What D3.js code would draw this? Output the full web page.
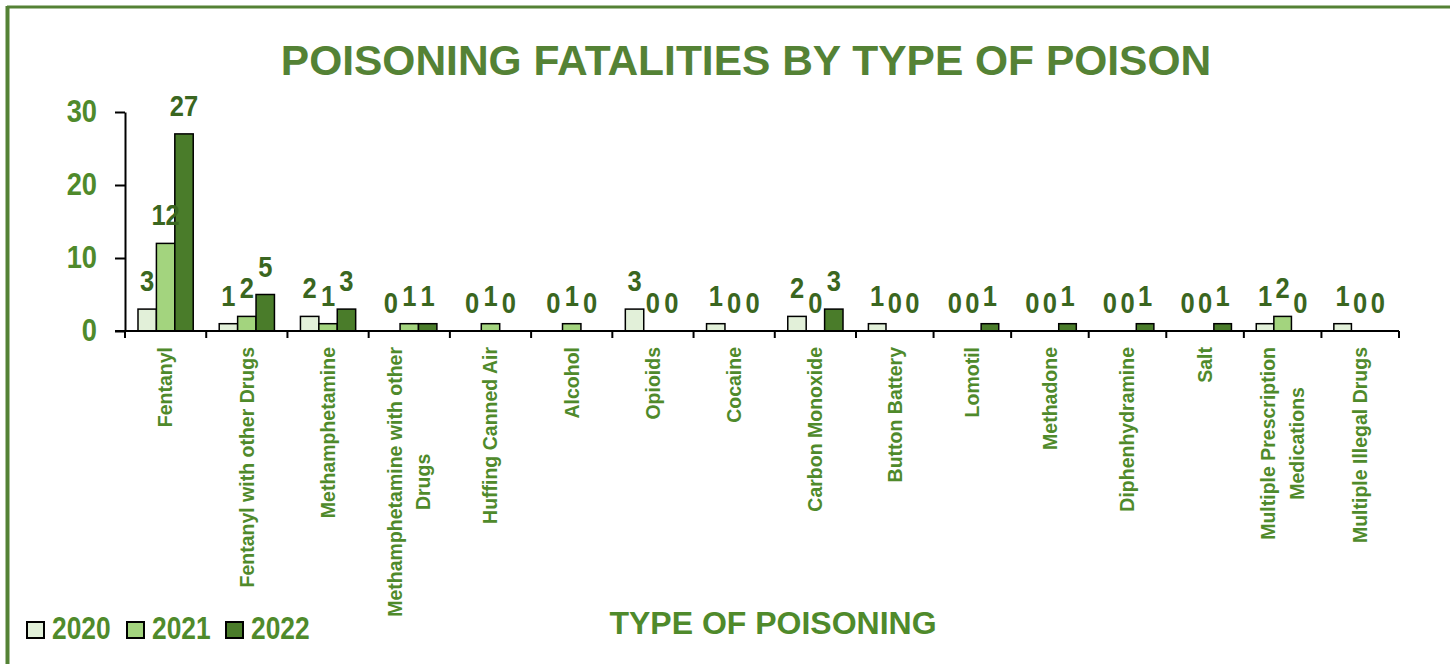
<!DOCTYPE html>
<html>
<head>
<meta charset="utf-8">
<script src="https://cdn.jsdelivr.net/npm/d3@7"></script>
<style>
  html, body { margin: 0; padding: 0; background: #ffffff; }
  svg { display: block; }
</style>
</head>
<body>
<svg id="chart" width="1450" height="664"></svg>
<script>
// Poisoning fatalities by type of poison, 2020–2022
const categories = [
  "Fentanyl",
  "Fentanyl with other Drugs",
  "Methamphetamine",
  "Methamphetamine with other|Drugs",
  "Huffing Canned Air",
  "Alcohol",
  "Opioids",
  "Cocaine",
  "Carbon Monoxide",
  "Button Battery",
  "Lomotil",
  "Methadone",
  "Diphenhydramine",
  "Salt",
  "Multiple Prescription|Medications",
  "Multiple Illegal Drugs"
];
const years = ["2020", "2021", "2022"];
const values2020 = [3, 1, 2, 0, 0, 0, 3, 1, 2, 1, 0, 0, 0, 0, 1, 1];
const values2021 = [12, 2, 1, 1, 1, 1, 0, 0, 0, 0, 0, 0, 0, 0, 2, 0];
const values2022 = [27, 5, 3, 1, 0, 0, 0, 0, 3, 0, 1, 1, 1, 1, 0, 0];
const yTicks = [0, 10, 20, 30];

const seriesValues = [values2020, values2021, values2022];
const fills = ["#e2f0d9", "#a3d47e", "#4a7c2a"];
const green = "#4f8a2b";
const darkGreen = "#3a6620";
const sans = "'Liberation Sans', Arial, sans-serif";

const svg = d3.select("#chart");

// frame
svg.append("line").attr("x1", 7).attr("x2", 1450).attr("y1", 7).attr("y2", 7)
  .attr("stroke", "#548235").attr("stroke-width", 3);
svg.append("line").attr("x1", 7.5).attr("x2", 7.5).attr("y1", 6).attr("y2", 664)
  .attr("stroke", "#548235").attr("stroke-width", 4);

const plot = { left: 125, right: 1399, top: 112, bottom: 331 };

// category index -> pixel; the last categories sit a little closer together
const xPos = d3.scaleLinear()
  .domain([0, 9, categories.length])
  .range([plot.left, 856, plot.right]);
// bar slots within one category, as a fraction of its width
const xs = d3.scaleBand().domain(years).range([0.16, 0.84]);
const y = d3.scaleLinear().domain([0, 30]).range([plot.bottom, plot.top]);

// condensed bold text: regular bold squeezed horizontally
function narrowText(sel, size, sx) {
  return sel.attr("font-family", sans).attr("font-weight", "bold")
    .attr("font-size", size);
}

// title
svg.append("text")
  .attr("x", 746).attr("y", 75)
  .attr("text-anchor", "middle")
  .attr("font-family", sans).attr("font-weight", "bold")
  .attr("font-size", 42.5).attr("fill", "#548235")
  .text("POISONING FATALITIES BY TYPE OF POISON");

const cells = [];
categories.forEach((c, i) => {
  years.forEach((yr, k) => cells.push({ i, yr, k, v: seriesValues[k][i] }));
});
const barX0 = d => xPos(d.i + xs(d.yr));
const barX1 = d => xPos(d.i + xs(d.yr) + xs.bandwidth());

// bars
svg.append("g").selectAll("rect")
  .data(cells.filter(d => d.v > 0))
  .join("rect")
  .attr("x", barX0)
  .attr("width", d => barX1(d) - barX0(d))
  .attr("y", d => y(d.v))
  .attr("height", d => y(0) - y(d.v))
  .attr("fill", d => fills[d.k])
  .attr("stroke", "#000").attr("stroke-width", 1.5);

// value labels
svg.append("g").selectAll("text")
  .data(cells)
  .join("text")
  .attr("transform", d => `translate(${(barX0(d) + barX1(d)) / 2},${y(d.v) - 18}) scale(0.88,1)`)
  .attr("text-anchor", "middle")
  .attr("font-family", sans).attr("font-weight", "bold")
  .attr("font-size", 29).attr("fill", darkGreen)
  .text(d => d.v);

// y axis
const yAxis = svg.append("g")
  .attr("transform", `translate(${plot.left},0)`)
  .call(d3.axisLeft(y).tickValues(yTicks).tickSize(10).tickPadding(0).tickSizeOuter(0));
yAxis.select(".domain").attr("stroke", "#000").attr("stroke-width", 2);
yAxis.selectAll(".tick line").attr("stroke", "#000").attr("stroke-width", 2);
yAxis.selectAll(".tick text")
  .attr("x", null)
  .attr("transform", "translate(-28,0) scale(0.88,1)")
  .attr("font-family", sans).attr("font-weight", "bold")
  .attr("font-size", 31).attr("fill", green);

// x axis line with ticks at category boundaries
const xAxis = svg.append("g");
xAxis.append("line")
  .attr("x1", plot.left - 10).attr("x2", plot.right)
  .attr("y1", plot.bottom).attr("y2", plot.bottom)
  .attr("stroke", "#000").attr("stroke-width", 2);
xAxis.selectAll("line.tk")
  .data(d3.range(categories.length + 1))
  .join("line")
  .attr("class", "tk")
  .attr("x1", i => xPos(i)).attr("x2", i => xPos(i))
  .attr("y1", plot.bottom).attr("y2", plot.bottom + 7)
  .attr("stroke", "#000").attr("stroke-width", 2);

// category labels, rotated, may wrap onto two lines
const labelTop = 347;
const catLabels = svg.append("g").selectAll("text")
  .data(categories.map((c, i) => ({ i, lines: c.split("|") })))
  .join("text")
  .attr("font-family", sans).attr("font-weight", "bold")
  .attr("font-size", 19.5).attr("fill", green)
  .attr("text-anchor", "middle");

catLabels.each(function (d) {
  const t = d3.select(this);
  const n = d.lines.length;
  const lh = 1.45;
  d.lines.forEach((ln, j) => {
    t.append("tspan").attr("x", 0)
      .attr("dy", j === 0 ? `${0.35 - (n - 1) * lh / 2}em` : `${lh}em`)
      .text(ln);
  });
  let maxLen = 0;
  t.selectAll("tspan").each(function () {
    maxLen = Math.max(maxLen, this.getComputedTextLength());
  });
  const cx = xPos(d.i + 0.5);
  const cy = labelTop + maxLen / 2;
  t.attr("transform", `translate(${cx},${cy}) rotate(-90)`);
});

// x axis title
svg.append("text")
  .attr("x", 773).attr("y", 634)
  .attr("text-anchor", "middle")
  .attr("font-family", sans).attr("font-weight", "bold")
  .attr("font-size", 32).attr("fill", green)
  .text("TYPE OF POISONING");

// legend
const legendX = [27, 127, 226];
const legend = svg.append("g").selectAll("g")
  .data(years.map((yr, k) => ({ yr, k })))
  .join("g")
  .attr("transform", d => `translate(${legendX[d.k]},622)`);
legend.append("rect")
  .attr("width", 17).attr("height", 16)
  .attr("fill", d => fills[d.k])
  .attr("stroke", "#000").attr("stroke-width", 2);
legend.append("text")
  .attr("transform", "translate(25,17) scale(0.85,1)")
  .attr("font-family", sans).attr("font-weight", "bold")
  .attr("font-size", 31).attr("fill", green)
  .text(d => d.yr);
</script>
</body>
</html>
